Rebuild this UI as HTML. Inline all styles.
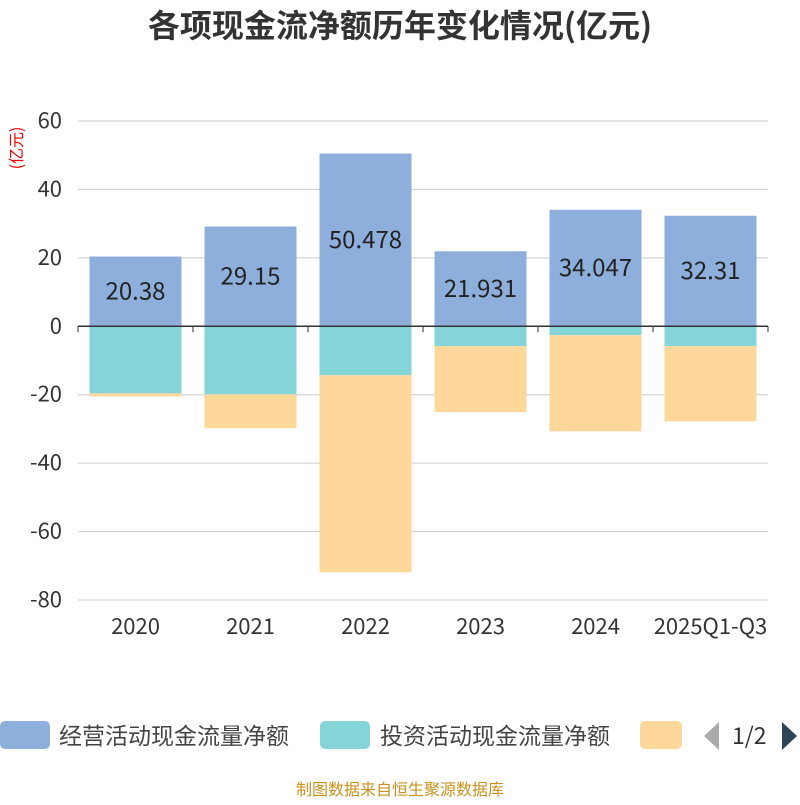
<!DOCTYPE html>
<html><head><meta charset="utf-8"><style>
body{margin:0;width:800px;height:800px;background:#fff;overflow:hidden;font-family:"Noto Sans CJK SC","Liberation Sans",sans-serif}
</style></head><body>
<svg width="800" height="800" xmlns="http://www.w3.org/2000/svg" id="svg" font-family="Noto Sans CJK SC, Liberation Sans, sans-serif">
<text x="400" y="37" text-anchor="middle" font-size="32" font-weight="bold" fill="#333">各项现金流净额历年变化情况(亿元)</text>
<text transform="translate(22,148) rotate(-90)" text-anchor="middle" font-size="16" fill="#e00">(亿元)</text>
<g id="grid"></g><g id="bars"></g><g id="labels"></g><g id="axes"></g>
<g>
<rect x="0" y="721" width="50" height="28" rx="5" fill="#8eaedb"/>
<text x="59" y="744" font-size="23" fill="#444">经营活动现金流量净额</text>
<rect x="320" y="721" width="50" height="28" rx="5" fill="#85d4d8"/>
<text x="380" y="744" font-size="23" fill="#444">投资活动现金流量净额</text>
<rect x="640" y="721" width="42" height="28" rx="5" fill="#fed89a"/>
<polygon points="719,722 719,750 704,736" fill="#aaa"/>
<text x="732" y="744" font-size="23" fill="#333">1/2</text>
<polygon points="782,722 782,750 797,736" fill="#2f4554"/>
</g>
<text x="400" y="795" text-anchor="middle" font-size="16" fill="#c8921e">制图数据来自恒生聚源数据库</text>
</svg>
<script>
const categories=["2020","2021","2022","2023","2024","2025Q1-Q3"];
const operating=[20.38,29.15,50.478,21.931,34.047,32.31];
const investing=[-19.6,-19.9,-14.3,-5.8,-2.6,-5.8];
const financing=[-0.9,-9.9,-57.6,-19.3,-28.1,-22.0];
const yTicks=[60,40,20,0,-20,-40,-60,-80];
const NS="http://www.w3.org/2000/svg";
const x0=78,x1=768,yTop=121,yBot=600,vMax=60,vMin=-80;
const y=v=>yTop+(vMax-v)/(vMax-vMin)*(yBot-yTop);
const band=(x1-x0)/categories.length;
const cx=i=>x0+band*(i+0.5);
const bw=92;
function mk(tag,attrs,parent){const e=document.createElementNS(NS,tag);for(const k in attrs)e.setAttribute(k,attrs[k]);document.getElementById(parent).appendChild(e);return e;}
yTicks.forEach(t=>{
 const l=mk('line',{x1:x0,x2:x1,y1:y(t),y2:y(t),stroke:'#ccc','stroke-width':1},'grid');
 
 
 const tx=mk('text',{x:x0-16,y:y(t)+7,'text-anchor':'end','font-size':22,fill:'#333'},'axes');
 tx.textContent=t;
 
 
});
const ax=mk('line',{x1:x0,x2:x1,y1:y(0),y2:y(0),stroke:'#333','stroke-width':1.5},'axes');


for(let i=0;i<=categories.length;i++){
 const tk=mk('line',{x1:x0+band*i,x2:x0+band*i,y1:y(0),y2:y(0)+6,stroke:'#333'},'axes');
 
 
}
categories.forEach((c,i)=>{
 const t=mk('text',{x:cx(i),y:634,'text-anchor':'middle','font-size':22,fill:'#333'},'axes');
 t.textContent=c;
 
 
 const o=operating[i];
 const r1=mk('rect',{x:cx(i)-bw/2,y:y(o),width:bw,height:y(0)-y(o),fill:'#8eaedb'},'bars');
 
 
 const iv=investing[i];
 const r2=mk('rect',{x:cx(i)-bw/2,y:y(0),width:bw,height:y(iv)-y(0),fill:'#85d4d8'},'bars');
 
 
 const f=financing[i];
 const r3=mk('rect',{x:cx(i)-bw/2,y:y(iv),width:bw,height:y(iv+f)-y(iv),fill:'#fed89a'},'bars');
 
 
 const lb=mk('text',{x:cx(i),y:(y(o)+y(0))/2+8,'text-anchor':'middle','font-size':24,fill:'#222'},'labels');
 lb.textContent=o;
 
 
});
</script>
</body></html>
